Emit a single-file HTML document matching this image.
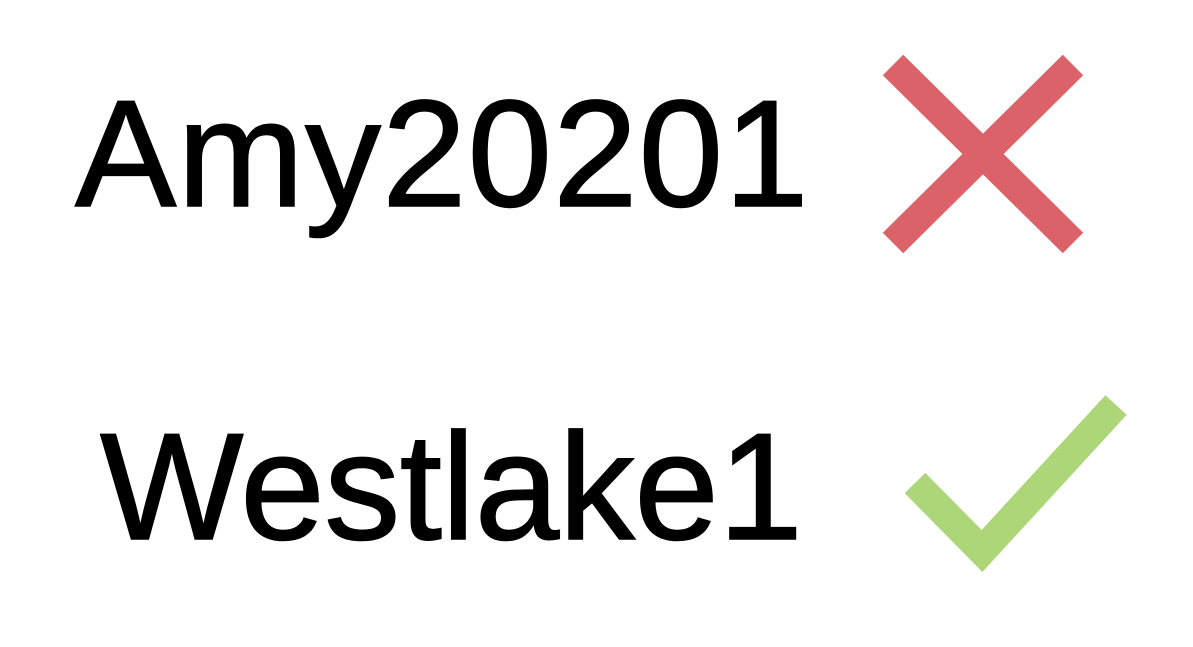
<!DOCTYPE html>
<html>
<head>
<meta charset="utf-8">
<style>
  html, body { margin: 0; padding: 0; background: #ffffff; }
  body { width: 1193px; height: 647px; position: relative; overflow: hidden; }
  .word {
    position: absolute;
    font-family: "Liberation Sans", Arial, sans-serif;
    font-size: 152px;
    color: #000;
    line-height: 1;
    white-space: nowrap;
    -webkit-text-stroke: 1.5px #000;
  }
  svg { position: absolute; left: 0; top: 0; }
</style>
</head>
<body>
  <div class="word" style="left:75px; top:78px; letter-spacing:1px;">Amy20201</div>
  <div class="word" style="left:100px; top:411px; letter-spacing:-0.5px;">Westlake1</div>
  <svg width="1193" height="647">
    <g stroke="#dc626a" stroke-width="29" stroke-linecap="butt">
      <line x1="893" y1="65" x2="1073" y2="243"/>
      <line x1="1073" y1="65" x2="893" y2="243"/>
    </g>
    <polyline points="915,483 982,551 1116,405" fill="none" stroke="#add678" stroke-width="29" stroke-linecap="butt" stroke-linejoin="miter"/>
  </svg>
</body>
</html>
